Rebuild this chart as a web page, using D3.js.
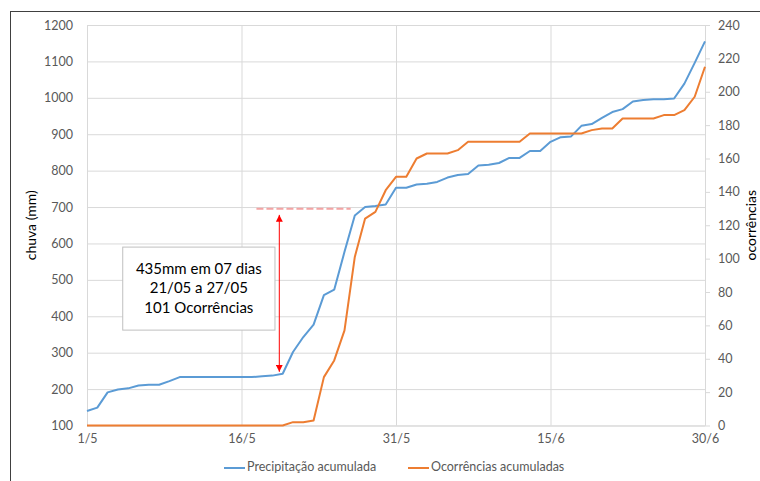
<!DOCTYPE html>
<html>
<head>
<meta charset="utf-8">
<script src="https://cdn.jsdelivr.net/npm/d3@7"></script>
<style>
  html, body { margin: 0; padding: 0; background: #fff; }
  svg { display: block; }
  text { font-family: Lato, "Open Sans", sans-serif; }
</style>
</head>
<body>
<svg id="chart" width="760" height="481"></svg>
<script>
// Daily accumulated rainfall (mm) and accumulated occurrences, 1/5 to 30/6
const precipitacao = [
  140, 149, 191, 199, 202, 210, 212, 212, 222, 233,
  233, 233, 233, 233, 233, 233, 233, 235, 237, 242,
  302, 343, 377, 458, 473, 577, 677, 700, 703, 707,
  753, 753, 762, 764, 769, 781, 788, 791, 814, 816,
  821, 835, 835, 854, 854, 879, 892, 894, 923, 928,
  945, 961, 969, 990, 994, 996, 996, 998, 1039, 1096,
  1155
];
const ocorrencias = [
  0, 0, 0, 0, 0, 0, 0, 0, 0, 0,
  0, 0, 0, 0, 0, 0, 0, 0, 0, 0,
  2, 2, 3, 29, 39, 57, 101, 124, 128, 141,
  149, 149, 160, 163, 163, 163, 165, 170, 170, 170,
  170, 170, 170, 175, 175, 175, 175, 175, 175, 177,
  178, 178, 184, 184, 184, 184, 186, 186, 189, 197,
  215
];
const xTickLabels = ["1/5", "16/5", "31/5", "15/6", "30/6"];
const leftTicks = [100, 200, 300, 400, 500, 600, 700, 800, 900, 1000, 1100, 1200];
const rightTicks = [0, 20, 40, 60, 80, 100, 120, 140, 160, 180, 200, 220, 240];
const seriesNames = ["Precipitação acumulada", "Ocorrências acumuladas"];
const seriesColors = ["#5b9bd5", "#ed7d31"];
const noteLines = ["435mm em 07 dias", "21/05 a 27/05", "101 Ocorrências"];

// Day categories 1/5 .. 30/6
const fmt = d3.timeFormat("%-d/%-m");
const days = d3.timeDay.range(new Date(2020, 4, 1), new Date(2020, 6, 1)).map(fmt);

const svg = d3.select("#chart");
const plot = { left: 87, right: 705, top: 25, bottom: 425.5 };

const x = d3.scalePoint().domain(days).range([plot.left, plot.right]);
const yL = d3.scaleLinear().domain([100, 1200]).range([plot.bottom, plot.top]);
const yR = d3.scaleLinear().domain([0, 240]).range([plot.bottom, plot.top]);
const step = x.step();
const xDay = i => plot.left + i * step;
const plain = d3.format("d");

// Outer chart frame
svg.append("rect")
  .attr("x", 10.5).attr("y", 11.5).attr("width", 800).attr("height", 500)
  .attr("fill", "none").attr("stroke", "#404040").attr("stroke-width", 1);

// Horizontal gridlines
svg.append("g")
  .attr("transform", `translate(${plot.left},0)`)
  .call(d3.axisLeft(yL).tickValues(leftTicks).tickSize(-(plot.right - plot.left)).tickFormat(""))
  .call(g => g.select(".domain").remove())
  .call(g => g.selectAll("line").attr("stroke", "#d9d9d9"));

// Vertical gridlines every 15 days
svg.append("g")
  .attr("transform", `translate(0,${plot.bottom})`)
  .call(d3.axisBottom(x).tickValues(xTickLabels).tickSize(-(plot.bottom - plot.top)).tickFormat(""))
  .call(g => g.select(".domain").remove())
  .call(g => g.selectAll("line").attr("stroke", "#d9d9d9"));

// Left axis labels
svg.append("g")
  .attr("transform", `translate(${plot.left},0)`)
  .call(d3.axisLeft(yL).tickValues(leftTicks).tickFormat(plain).tickSize(0).tickPadding(14))
  .call(g => g.select(".domain").remove())
  .call(g => g.selectAll("text").attr("fill", "#595959").style("font-size", "12.5px"));

// Right axis
svg.append("g")
  .attr("transform", `translate(${plot.right},0)`)
  .call(d3.axisRight(yR).tickValues(rightTicks).tickFormat(plain).tickSize(5).tickPadding(8))
  .call(g => g.select(".domain").attr("stroke", "#d9d9d9").attr("d", `M0.5,${plot.top}V${plot.bottom}`))
  .call(g => g.selectAll("line").attr("stroke", "#d9d9d9"))
  .call(g => g.selectAll("text").attr("fill", "#595959").style("font-size", "12.5px"));

// Bottom axis
svg.append("g")
  .attr("transform", `translate(0,${plot.bottom})`)
  .call(d3.axisBottom(x).tickValues(xTickLabels).tickSize(0).tickPadding(9))
  .call(g => g.select(".domain").attr("stroke", "#d9d9d9").attr("d", `M${plot.left},0.5H${plot.right}`))
  .call(g => g.selectAll("text").attr("fill", "#595959").style("font-size", "12.5px"));

// Axis titles
svg.append("text")
  .attr("transform", `translate(36,${(plot.top + plot.bottom) / 2}) rotate(-90)`)
  .attr("text-anchor", "middle").attr("font-size", 14).attr("fill", "#000")
  .text("chuva (mm)");
svg.append("text")
  .attr("transform", `translate(756,${(plot.top + plot.bottom) / 2}) rotate(-90)`)
  .attr("text-anchor", "middle").attr("font-size", 14).attr("fill", "#000")
  .text("ocorrências");

// Series lines
const lineL = d3.line().x((d, i) => x(days[i])).y(d => yL(d));
const lineR = d3.line().x((d, i) => x(days[i])).y(d => yR(d));
svg.append("path").datum(precipitacao)
  .attr("d", lineL).attr("fill", "none")
  .attr("stroke", seriesColors[0]).attr("stroke-width", 2).attr("stroke-linejoin", "round");
svg.append("path").datum(ocorrencias)
  .attr("d", lineR).attr("fill", "none")
  .attr("stroke", seriesColors[1]).attr("stroke-width", 2).attr("stroke-linejoin", "round");

// Annotation: dashed reference level, double arrow, text box
const refLevel = 695;
svg.append("line")
  .attr("x1", xDay(16.45)).attr("x2", xDay(25.6))
  .attr("y1", yL(refLevel)).attr("y2", yL(refLevel))
  .attr("stroke", "#f4a3a3").attr("stroke-width", 2).attr("stroke-dasharray", "7,3");

const defs = svg.append("defs");
["start", "end"].forEach(k => {
  defs.append("marker")
    .attr("id", "arrow-" + k)
    .attr("viewBox", "0 0 10 10").attr("refX", 10).attr("refY", 5)
    .attr("markerWidth", 7).attr("markerHeight", 7)
    .attr("markerUnits", "userSpaceOnUse")
    .attr("orient", k === "start" ? "auto-start-reverse" : "auto")
    .append("path").attr("d", "M0,0L10,5L0,10Z").attr("fill", "#ff0000");
});
const arrowX = xDay(18.67);
svg.append("line")
  .attr("x1", arrowX).attr("x2", arrowX)
  .attr("y1", yL(refLevel) + 6).attr("y2", yL(precipitacao[19]) - 2)
  .attr("stroke", "#ff0000").attr("stroke-width", 1)
  .attr("marker-start", "url(#arrow-start)").attr("marker-end", "url(#arrow-end)");

const boxX0 = xDay(3.47), boxX1 = xDay(18.25);
const boxY0 = yL(590), boxY1 = yL(362);
svg.append("rect")
  .attr("x", boxX0).attr("y", boxY0)
  .attr("width", boxX1 - boxX0).attr("height", boxY1 - boxY0)
  .attr("fill", "#fff").attr("stroke", "#bfbfbf").attr("stroke-width", 1);
const cx = (boxX0 + boxX1) / 2;
svg.append("g").selectAll("text").data(noteLines).join("text")
  .attr("x", cx).attr("y", (d, i) => boxY0 + 23 + i * 19.5)
  .attr("text-anchor", "middle").attr("dominant-baseline", "middle")
  .attr("font-size", 15).attr("fill", "#000")
  .text(d => d);

// Legend
const legendItems = [
  { name: seriesNames[0], color: seriesColors[0], x: 224 },
  { name: seriesNames[1], color: seriesColors[1], x: 408 }
];
const lg = svg.append("g").selectAll("g").data(legendItems).join("g")
  .attr("transform", d => `translate(${d.x},468)`);
lg.append("line").attr("x1", 0).attr("x2", 21).attr("y1", 0).attr("y2", 0)
  .attr("stroke", d => d.color).attr("stroke-width", 2);
lg.append("text").attr("x", 23).attr("y", 0).attr("dominant-baseline", "middle")
  .attr("font-size", 12.5).attr("fill", "#595959").text(d => d.name);
</script>
</body>
</html>
